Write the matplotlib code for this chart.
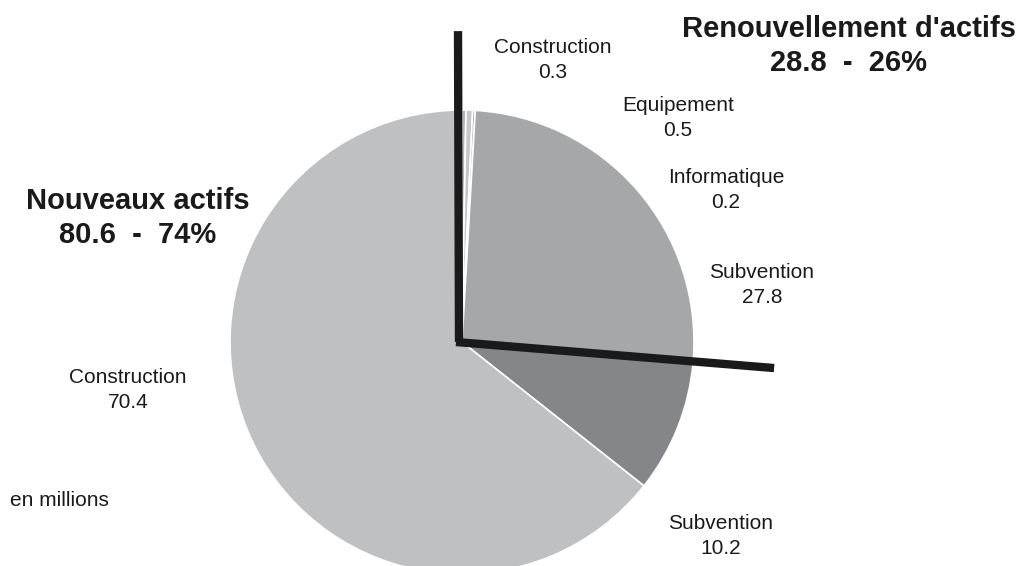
import numpy as np
import matplotlib
matplotlib.use('Agg')
import matplotlib.pyplot as plt

plt.rcParams['font.family'] = ['Liberation Sans', 'DejaVu Sans']

# slices clockwise from 12 o'clock
labels = ['Construction', 'Equipement', 'Informatique', 'Subvention', 'Subvention', 'Construction']
values = [0.3, 0.5, 0.2, 27.8, 10.2, 70.4]
colors = ['#b4b4b6', '#c6c6c8', '#b0b0b2', '#a6a7a9', '#858688', '#bfc0c2']

groups = ['Renouvellement d\'actifs', 'Nouveaux actifs']
group_values = [28.8, 80.6]
group_pcts = [26, 74]

# label positions in pixels (x, y from top)
label_pos = [(553, 60), (678, 118), (726, 190), (762, 285), (721, 536), (128, 390)]
group_pos = [(849, 46), (138, 218)]

W, H = 1021, 566
fig = plt.figure(figsize=(W / 100, H / 100), dpi=100)
ax = fig.add_axes([0, 0, 1, 1])

cx, cy, r = 462, H - 342, 232
ax.pie(values, colors=colors, startangle=90, counterclock=False,
       center=(cx, cy), radius=r, frame=True,
       wedgeprops=dict(edgecolor='white', linewidth=1.2))
ax.set_xlim(0, W)
ax.set_ylim(0, H)
ax.set_aspect('equal')
ax.axis('off')

# separator lines between the two groups
frac = group_values[0] / sum(values)
ang = np.deg2rad(90 - 360 * frac)
L = 1.35 * r
ax.plot([cx - 4, cx - 3], [cy + 1.34 * r, cy], color='#1a1a1a', lw=6,
        solid_capstyle='butt', zorder=5)
ax.plot([cx - 6, cx + L * np.cos(ang)], [cy, cy + L * np.sin(ang)], color='#1a1a1a',
        lw=6, solid_capstyle='butt', zorder=5)

for lab, v, (x, y) in zip(labels, values, label_pos):
    ax.text(x, H - y, f'{lab}\n{v}', ha='center', va='center', fontsize=15,
            color='#1a1a1a', linespacing=1.4)

for g, v, p, (x, y) in zip(groups, group_values, group_pcts, group_pos):
    ax.text(x, H - y, f'{g}\n{v}  -  {p}%', ha='center', va='center', fontsize=21,
            fontweight='bold', color='#1a1a1a', linespacing=1.3)

ax.text(10, H - 501, 'en millions', ha='left', va='center', fontsize=15, color='#1a1a1a')

fig.savefig('out.png', dpi=100)
